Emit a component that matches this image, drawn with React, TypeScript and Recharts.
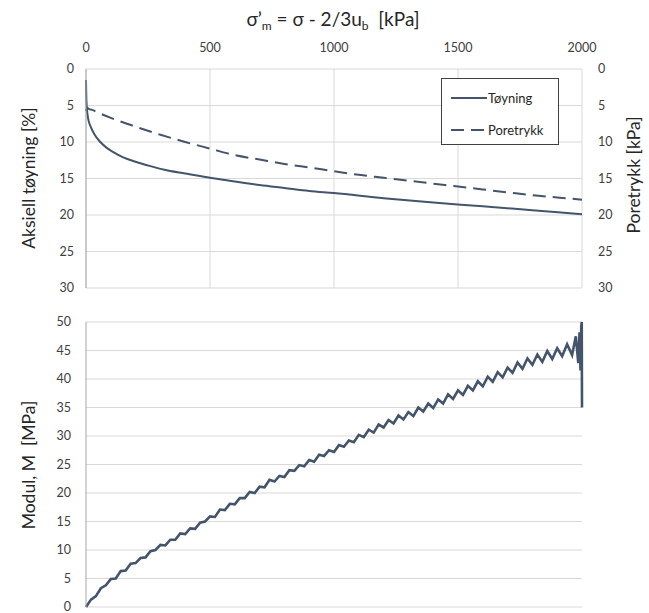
import React from 'react';
import { LineChart, Line, XAxis, YAxis, CartesianGrid } from 'recharts';

// top panel: strain and pore pressure vs effective mean stress
const sigmaT = [0, 1, 3, 6, 10, 20, 35, 55, 80, 110, 150, 200, 260, 330, 400, 500, 600, 700, 800, 900, 1000, 1200, 1400, 1600, 1800, 2000];
const toyning = [1.5, 3.5, 5.2, 6.2, 7.0, 8.0, 9.0, 9.9, 10.7, 11.4, 12.1, 12.7, 13.3, 13.9, 14.3, 14.9, 15.4, 15.9, 16.3, 16.7, 17.0, 17.7, 18.3, 18.8, 19.35, 19.9];

const sigmaP = [0, 5, 12, 25, 50, 100, 200, 300, 400, 500, 600, 700, 800, 900, 1000, 1100, 1200, 1300, 1400, 1500, 1600, 1700, 1800, 1900, 2000];
const poretrykk = [5.8, 5.3, 5.5, 5.6, 6.0, 6.7, 7.9, 9.0, 10.0, 10.9, 11.8, 12.4, 13.0, 13.5, 14.0, 14.5, 14.9, 15.3, 15.7, 16.1, 16.5, 16.9, 17.3, 17.6, 17.9];

const sigmaM = [
  0, 20, 40, 60, 80, 100, 120, 140, 160, 180, 200, 220, 240, 260, 280, 300, 320, 340, 360, 380,
  400, 420, 440, 460, 480, 500, 520, 540, 560, 580, 600, 620, 640, 660, 680, 700, 720, 740, 760, 780,
  800, 820, 840, 860, 880, 900, 920, 940, 960, 980, 1000, 1020, 1040, 1060, 1080, 1100, 1120, 1140, 1160, 1180,
  1200, 1220, 1240, 1260, 1280, 1300, 1320, 1340, 1360, 1380, 1400, 1420, 1440, 1460, 1480, 1500, 1520, 1540, 1560, 1580,
  1600, 1620, 1640, 1660, 1680, 1700, 1720, 1740, 1760, 1780, 1800, 1820, 1840, 1860, 1880, 1900, 1920, 1940, 1960, 1975,
  1985, 1990, 1994, 1997, 1999, 2000,
];
const modul = [
  0.0, 1.3, 1.9, 3.3, 3.8, 4.9, 5.0, 6.3, 6.4, 7.6, 7.7, 8.6, 8.7, 9.8, 10.0, 10.9, 10.8, 11.8, 11.8, 12.9,
  12.8, 13.8, 13.7, 14.8, 15.0, 15.9, 15.8, 17.1, 17.0, 18.1, 18.0, 19.1, 19.1, 20.2, 20.0, 21.1, 21.0, 22.3, 22.0, 23.0,
  22.8, 24.0, 23.9, 24.9, 24.7, 25.8, 25.5, 26.7, 26.5, 27.5, 27.2, 28.4, 28.1, 29.2, 28.9, 30.2, 29.8, 31.1, 30.6, 32.0,
  31.5, 32.8, 32.2, 33.6, 32.9, 34.2, 33.5, 35.0, 34.3, 35.7, 34.9, 36.4, 35.7, 37.3, 36.5, 38.0, 37.2, 38.8, 38.0, 39.6,
  38.7, 40.4, 39.5, 41.2, 40.3, 42.0, 41.1, 42.9, 41.8, 43.6, 42.5, 44.3, 43.0, 44.9, 43.5, 45.4, 44.0, 46.1, 44.2, 47.5,
  42.8, 48.2, 41.5, 49.2, 50.0, 35.0,
];

const xTicksTop = [0, 500, 1000, 1500, 2000];
const xTicksBottom = [0, 200, 400, 600, 800, 1000, 1200, 1400, 1600, 1800, 2000];
const yTicksTop = [0, 5, 10, 15, 20, 25, 30];
const yTicksBottom = [0, 5, 10, 15, 20, 25, 30, 35, 40, 45, 50];

const toyningData = sigmaT.map((x, i) => ({ x, v: toyning[i] }));
const poreData = sigmaP.map((x, i) => ({ x, v: poretrykk[i] }));
const modulData = sigmaM.map((x, i) => ({ x, v: modul[i] }));

const LINE = '#44546A';
const GRID = '#d9d9d9';
const AXIS = '#a6a6a6';
const FONT = 'Lato, "Open Sans", sans-serif';
const tick = { fill: '#404040', fontSize: 12.5, fontFamily: FONT };

const LegendBox = () => (
  <div
    style={{
      position: 'absolute', left: 441, top: 78, width: 116, height: 65, border: '1px solid #404040',
      background: '#fff', fontFamily: FONT, fontSize: 13, color: '#262626',
    }}
  >
    <div style={{ display: 'flex', alignItems: 'center', height: 20, marginTop: 9 }}>
      <svg width={46} height={6}><line x1={9} y1={3} x2={45} y2={3} stroke={LINE} strokeWidth={2} /></svg>
      <span>Tøyning</span>
    </div>
    <div style={{ display: 'flex', alignItems: 'center', height: 20, marginTop: 12 }}>
      <svg width={46} height={6}><line x1={9} y1={3} x2={45} y2={3} stroke={LINE} strokeWidth={2} strokeDasharray="13 7" /></svg>
      <span>Poretrykk</span>
    </div>
  </div>
);

const vTitle = (text: string, cx: number, cy: number) => (
  <div
    style={{
      position: 'absolute', left: cx, top: cy, transform: 'translate(-50%, -50%) rotate(-90deg)',
      whiteSpace: 'pre', fontFamily: FONT, fontSize: 17.5, color: '#262626',
    }}
  >
    {text}
  </div>
);

export default function App() {
  return (
    <div style={{ position: 'absolute', left: 0, top: 0, width: 649, height: 613, background: '#fff' }}>
      <div
        style={{
          position: 'absolute', left: 333, top: 20, transform: 'translate(-50%, -50%)',
          whiteSpace: 'pre', fontFamily: FONT, fontSize: 19, color: '#262626',
        }}
      >
        σ’<sub style={{ fontSize: 12 }}>m</sub> = σ - 2/3u<sub style={{ fontSize: 12 }}>b</sub>  [kPa]
      </div>

      <div style={{ position: 'absolute', left: 0, top: 0 }}>
        <LineChart width={649} height={300} margin={{ top: 0, right: 0, bottom: 12, left: 0 }}>
          <CartesianGrid stroke={GRID} horizontalValues={yTicksTop} verticalValues={xTicksTop} yAxisId="left" />
          <XAxis
            type="number" dataKey="x" orientation="top" domain={[0, 2000]} ticks={xTicksTop} interval={0}
            height={69} axisLine={false} tickLine={false} tickSize={0} tickMargin={17} tick={tick}
          />
          <YAxis
            yAxisId="left" reversed domain={[0, 30]} ticks={yTicksTop} width={86} interval={0}
            axisLine={{ stroke: AXIS }} tickLine={false} tickSize={0} tickMargin={12} tick={tick}
          />
          <YAxis
            yAxisId="right" orientation="right" reversed domain={[0, 30]} ticks={yTicksTop} width={67} interval={0}
            axisLine={false} tickLine={false} tickSize={0} tickMargin={16} tick={tick}
          />
          <Line yAxisId="left" data={toyningData} dataKey="v" name="Tøyning" type="monotone" stroke={LINE} strokeWidth={2} dot={false} isAnimationActive={false} />
          <Line yAxisId="right" data={poreData} dataKey="v" name="Poretrykk" type="monotone" stroke={LINE} strokeWidth={2} strokeDasharray="13 7" dot={false} isAnimationActive={false} />
        </LineChart>
      </div>
      <LegendBox />

      <div style={{ position: 'absolute', left: 0, top: 300 }}>
        <LineChart width={649} height={313} data={modulData} margin={{ top: 22, right: 67, bottom: 6, left: 0 }}>
          <CartesianGrid stroke={GRID} horizontalValues={yTicksBottom} verticalValues={xTicksBottom} />
          <XAxis
            type="number" dataKey="x" domain={[0, 2000]} ticks={xTicksBottom} interval={0}
            height={0} axisLine={{ stroke: AXIS }} tickLine={false} tick={false}
          />
          <YAxis
            domain={[0, 50]} ticks={yTicksBottom} width={86} interval={0}
            axisLine={{ stroke: AXIS }} tickLine={false} tickSize={0} tickMargin={15} tick={tick}
          />
          <Line dataKey="v" type="linear" stroke={LINE} strokeWidth={2.6} dot={false} isAnimationActive={false} />
        </LineChart>
      </div>

      {vTitle('Aksiell tøyning [%]', 28, 178)}
      {vTitle('Poretrykk [kPa]', 633, 175)}
      {vTitle('Modul, M  [MPa]', 28, 465)}
    </div>
  );
}
